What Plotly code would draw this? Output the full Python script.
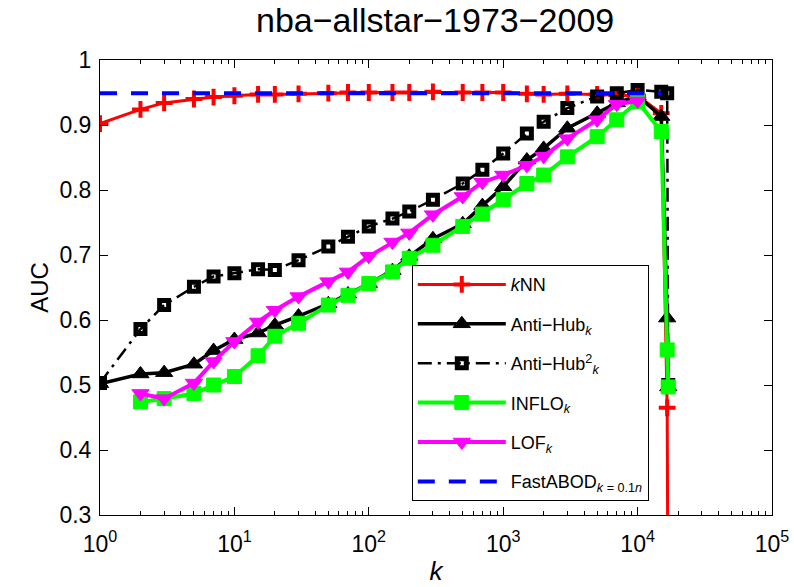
import plotly.graph_objects as go

# neighbourhood sizes k (log scale)
k_values = [1, 2, 3, 5, 7, 10, 15, 20, 30, 50, 70, 100, 150, 200, 300, 500, 700,
            1000, 1500, 2000, 3000, 5000, 7000, 10000, 15000, 16600, 16900]

auc_knn = [0.902, 0.924, 0.934, 0.940, 0.943, 0.945, 0.947, 0.947, 0.948, 0.949,
           0.950, 0.950, 0.950, 0.950, 0.951, 0.950, 0.950, 0.950, 0.948, 0.947,
           0.948, 0.947, 0.946, 0.945, 0.918, 0.465, 0.050]

auc_antihub = [0.502, 0.517, 0.519, 0.532, 0.553, 0.570, 0.580, 0.592, 0.606, 0.625,
               0.640, 0.656, 0.676, 0.698, 0.725, 0.748, 0.776, 0.805, 0.846, 0.864,
               0.895, 0.918, 0.934, 0.945, 0.913, 0.603, 0.497]

auc_antihub2 = [0.503, 0.586, 0.623, 0.651, 0.667, 0.672, 0.678, 0.677, 0.692, 0.713,
                0.728, 0.744, 0.756, 0.767, 0.785, 0.810, 0.831, 0.856, 0.887, 0.905,
                0.926, 0.944, 0.949, 0.954, 0.951, 0.949, 0.500]

k_inflo = k_values[1:]
auc_inflo = [0.474, 0.479, 0.487, 0.500, 0.513, 0.545, 0.575, 0.595, 0.623, 0.638,
             0.656, 0.674, 0.695, 0.715, 0.744, 0.763, 0.785, 0.810, 0.823, 0.851,
             0.882, 0.908, 0.936, 0.890, 0.554, 0.497]

k_lof = k_values[1:24]
auc_lof = [0.487, 0.479, 0.503, 0.536, 0.567, 0.597, 0.615, 0.636, 0.659, 0.674,
           0.698, 0.720, 0.734, 0.762, 0.790, 0.812, 0.823, 0.838, 0.852, 0.879,
           0.908, 0.932, 0.937]

k_abod = k_values[:25]
auc_abod = [0.949] * len(k_abod)

x_tick_vals = [1, 10, 100, 1000, 10000, 100000]
x_tick_text = ["10<sup>%d</sup>" % i for i in range(6)]
x_minor_vals = [m * 10 ** d for d in range(5) for m in range(2, 10)]
y_tick_vals = [0.3, 0.4, 0.5, 0.6, 0.7, 0.8, 0.9, 1.0]
y_tick_text = ["0.3", "0.4", "0.5", "0.6", "0.7", "0.8", "0.9", "1"]

FONT = "Liberation Sans, Arial, Helvetica, sans-serif"

fig = go.Figure()

fig.add_trace(go.Scatter(
    x=k_values, y=auc_knn, name="<i>k</i>NN", legendgroup="a",
    mode="lines+markers", line=dict(color="#ff0000", width=3),
    marker=dict(symbol="cross-thin", size=12, color="#ff0000",
                line=dict(color="#ff0000", width=4))))

fig.add_trace(go.Scatter(
    x=k_values, y=auc_antihub, name="Anti\u2212Hub<sub><i>k</i></sub>", legendgroup="b",
    mode="lines+markers", line=dict(color="#000000", width=3.5),
    marker=dict(symbol="triangle-up", size=15, color="#000000",
                line=dict(color="#000000", width=1))))

fig.add_trace(go.Scatter(
    x=k_values, y=auc_antihub2, name="Anti\u2212Hub<sup>2</sup><sub><i>k</i></sub>", legendgroup="c",
    mode="lines+markers", line=dict(color="#000000", width=2.5, dash="14px,6px,3px,6px"),
    marker=dict(symbol="square-open", size=9, color="#000000",
                line=dict(color="#000000", width=5))))

fig.add_trace(go.Scatter(
    x=k_inflo, y=auc_inflo, name="INFLO<sub><i>k</i></sub>", legendgroup="d",
    mode="lines+markers", line=dict(color="#00ff00", width=4),
    marker=dict(symbol="square", size=14, color="#00ff00",
                line=dict(color="#00ff00", width=1))))

fig.add_trace(go.Scatter(
    x=k_lof, y=auc_lof, name="LOF<sub><i>k</i></sub>", legendgroup="e",
    mode="lines+markers", line=dict(color="#ff00ff", width=4),
    marker=dict(symbol="triangle-down", size=15, color="#ff00ff",
                line=dict(color="#ff00ff", width=1))))

fig.add_trace(go.Scatter(
    x=k_abod, y=auc_abod, name="FastABOD<sub><i>k</i> = 0.1<i>n</i></sub>", legendgroup="f",
    mode="lines", line=dict(color="#0000ff", width=4, dash="17px,14px")))

axis_common = dict(
    showgrid=False, zeroline=False, showline=True, linecolor="#000000", linewidth=1,
    mirror="ticks", ticks="inside", ticklen=8, tickcolor="#000000", automargin=False,
    tickfont=dict(family=FONT, size=23, color="#000000"),
)

fig.update_xaxes(
    type="log", range=[0, 5], tickvals=x_tick_vals, ticktext=x_tick_text,
    ticklabelstandoff=8,
    minor=dict(ticks="inside", ticklen=4, tickvals=x_minor_vals, tickcolor="#000000"),
    title=dict(text="<i>k</i>", font=dict(family=FONT, size=26, color="#000000"), standoff=6),
    **axis_common)

fig.update_yaxes(
    range=[0.3, 1.0], tickvals=y_tick_vals, ticktext=y_tick_text,
    ticklabelstandoff=3,
    title=dict(text="AUC", font=dict(family=FONT, size=24, color="#000000"), standoff=4),
    **axis_common)

fig.update_layout(
    width=794, height=587,
    margin=dict(l=100, r=22, t=60, b=72, autoexpand=False),
    paper_bgcolor="#ffffff", plot_bgcolor="#ffffff",
    title=dict(text="nba\u2212allstar\u22121973\u22122009", x=0.548, xanchor="center",
               y=0.965, yanchor="middle",
               font=dict(family=FONT, size=34, color="#000000")),
    legend=dict(x=0.464, y=0.549, xanchor="left", yanchor="top",
                bgcolor="#ffffff", bordercolor="#000000", borderwidth=1,
                font=dict(family=FONT, size=18, color="#000000"),
                itemwidth=88, tracegroupgap=13),
    showlegend=True,
)

fig.write_html("out.html")
